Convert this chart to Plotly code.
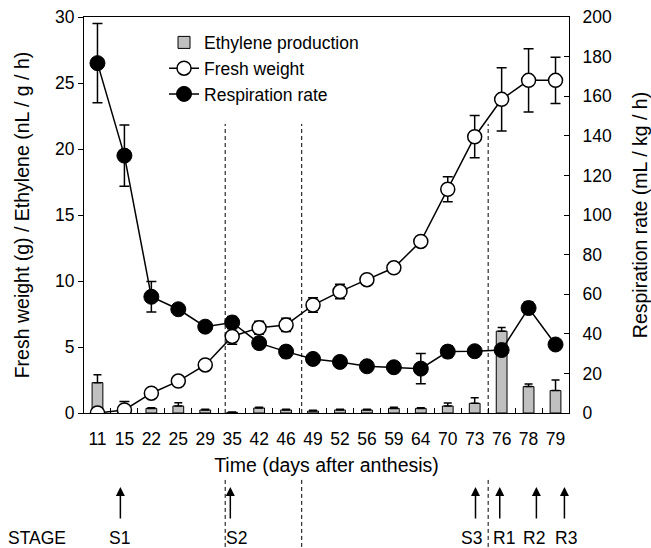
import plotly.graph_objects as go

# ---------------- data ----------------
days = ["11", "15", "22", "25", "29", "35", "42", "46", "49", "52", "56", "59",
        "64", "70", "73", "76", "78", "79"]

ethylene = [2.3, 0.05, 0.35, 0.53, 0.23, 0.05, 0.38, 0.23, 0.15, 0.23, 0.23, 0.35,
            0.35, 0.53, 0.73, 6.2, 2.0, 1.7]
ethylene_err = [0.6, 0.05, 0.05, 0.25, 0.05, 0.02, 0.05, 0.05, 0.05, 0.05, 0.05, 0.08,
                0.05, 0.22, 0.43, 0.28, 0.2, 0.8]

fresh_weight = [0.0, 0.23, 1.5, 2.42, 3.64, 5.8, 6.46, 6.67, 8.18, 9.2, 10.1, 11.0,
                13.0, 16.95, 20.93, 23.76, 25.2, 25.2]
fresh_weight_err = [0.05, 0.65, 0.1, 0.1, 0.1, 0.6, 0.5, 0.5, 0.55, 0.55, 0.2, 0.2,
                    0.2, 0.95, 1.6, 2.4, 2.4, 1.75]

respiration = [176.7, 130.0, 58.7, 52.4, 43.6, 45.7, 35.3, 31.0, 27.3, 25.8, 23.6, 23.1,
               22.4, 31.0, 31.2, 31.8, 53.0, 34.6]
respiration_err = [20.0, 15.5, 7.7, 1.5, 1.5, 3.0, 1.5, 3.0, 1.5, 1.5, 1.5, 1.5,
                   7.6, 3.0, 1.5, 1.5, 3.0, 1.5]

# stage markers (category index units)
stage_names = ["S1", "S2", "S3", "R1", "R2", "R3"]
stage_arrow_pos = [0.85, 4.93, 14.03, 14.93, 16.29, 17.33]
stage_label_pos = [0.81, 5.17, 13.87, 15.07, 16.2, 17.37]
divider_pos = [4.74, 7.58, 14.5]

FONT = "Liberation Sans, Arial, sans-serif"
TICK = 17.5
TITLE = 19.5

fig = go.Figure()

fig.add_trace(go.Bar(
    x=days, y=ethylene, name="Ethylene production",
    marker=dict(color="#c0c0c0", line=dict(color="black", width=1)),
    width=0.4,
    error_y=dict(type="data", array=ethylene_err, arrayminus=[0] * len(days),
                 symmetric=False, color="black", thickness=1.5, width=4),
    legendrank=1, yaxis="y",
))

fig.add_trace(go.Scatter(
    x=days, y=respiration, name="Respiration rate", mode="lines+markers",
    line=dict(color="black", width=1.5),
    marker=dict(symbol="circle", size=15, color="black", line=dict(color="black", width=1)),
    error_y=dict(type="data", array=respiration_err, color="black", thickness=1.5, width=5),
    legendrank=3, yaxis="y2",
))

fig.add_trace(go.Scatter(
    x=days, y=fresh_weight, name="Fresh weight", mode="lines+markers",
    line=dict(color="black", width=1.5),
    marker=dict(symbol="circle", size=14, color="white", line=dict(color="black", width=1.5)),
    error_y=dict(type="data", array=fresh_weight_err, color="black", thickness=1.5, width=5),
    legendrank=2, yaxis="y3",
))

shapes = []
for p in divider_pos:
    for y0, y1 in [(0.0, 0.73), (-0.169, -0.36)]:
        shapes.append(dict(type="line", xref="x", yref="paper", x0=p, x1=p, y0=y0, y1=y1,
                           line=dict(color="black", width=1, dash="4px,3px"), layer="below"))

annotations = []
for name, ap, lp in zip(stage_names, stage_arrow_pos, stage_label_pos):
    annotations.append(dict(xref="x", yref="paper", x=ap, y=-0.187, text="",
                            showarrow=True, ax=0, ay=33, arrowhead=2, arrowsize=1.2,
                            arrowwidth=1.5, arrowcolor="black"))
    annotations.append(dict(xref="x", yref="paper", x=lp, y=-0.316, text=name,
                            xanchor="center", yanchor="middle",
                            showarrow=False, font=dict(family=FONT, size=TICK, color="black")))
annotations.append(dict(xref="paper", yref="paper", x=-0.097, y=-0.316, text="STAGE",
                        xanchor="center", yanchor="middle",
                        showarrow=False, font=dict(family=FONT, size=TICK, color="black")))

fig.update_layout(
    width=651, height=548,
    margin=dict(l=84, r=82, t=17, b=135, autoexpand=False),
    paper_bgcolor="white", plot_bgcolor="white",
    font=dict(family=FONT, size=TICK, color="black"),
    showlegend=True,
    legend=dict(x=0.165, y=0.981, xanchor="left", yanchor="top",
                bgcolor="rgba(0,0,0,0)", font=dict(size=TICK),
                traceorder="normal", tracegroupgap=3),
    xaxis=dict(type="category", range=[-0.5, 17.5], showline=True, linecolor="black",
               linewidth=1.2, mirror=True, ticks="inside", ticklen=5, tickcolor="black",
               tickson="boundaries", showgrid=False, zeroline=False, tickangle=0,
               automargin=False,
               ticklabelstandoff=10, tickfont=dict(size=TICK),
               title=dict(text="Time (days after anthesis)", standoff=10,
                          font=dict(size=TITLE))),
    yaxis=dict(range=[0, 30], dtick=5, showline=True, linecolor="black", linewidth=1.2,
               ticks="outside", ticklen=5, tickcolor="black", showgrid=False,
               zeroline=False, tickfont=dict(size=TICK), automargin=False,
               title=dict(text="Fresh weight (g) / Ethylene (nL / g / h)", standoff=20,
                          font=dict(size=TITLE))),
    yaxis2=dict(range=[0, 200], dtick=20, overlaying="y", side="right", showline=True,
                linecolor="black", linewidth=1.2, ticks="inside", ticklen=5,
                tickcolor="black", showgrid=False, zeroline=False, ticklabelstandoff=9,
                tickfont=dict(size=TICK), automargin=False,
                title=dict(text="Respiration rate (mL / kg / h)", standoff=22,
                           font=dict(size=TITLE))),
    yaxis3=dict(range=[0, 30], overlaying="y", visible=False, showgrid=False,
                zeroline=False, automargin=False),
    shapes=shapes,
    annotations=annotations,
)

for tr in fig.data:
    tr.legendgroup = tr.name

fig.write_html("out.html")
